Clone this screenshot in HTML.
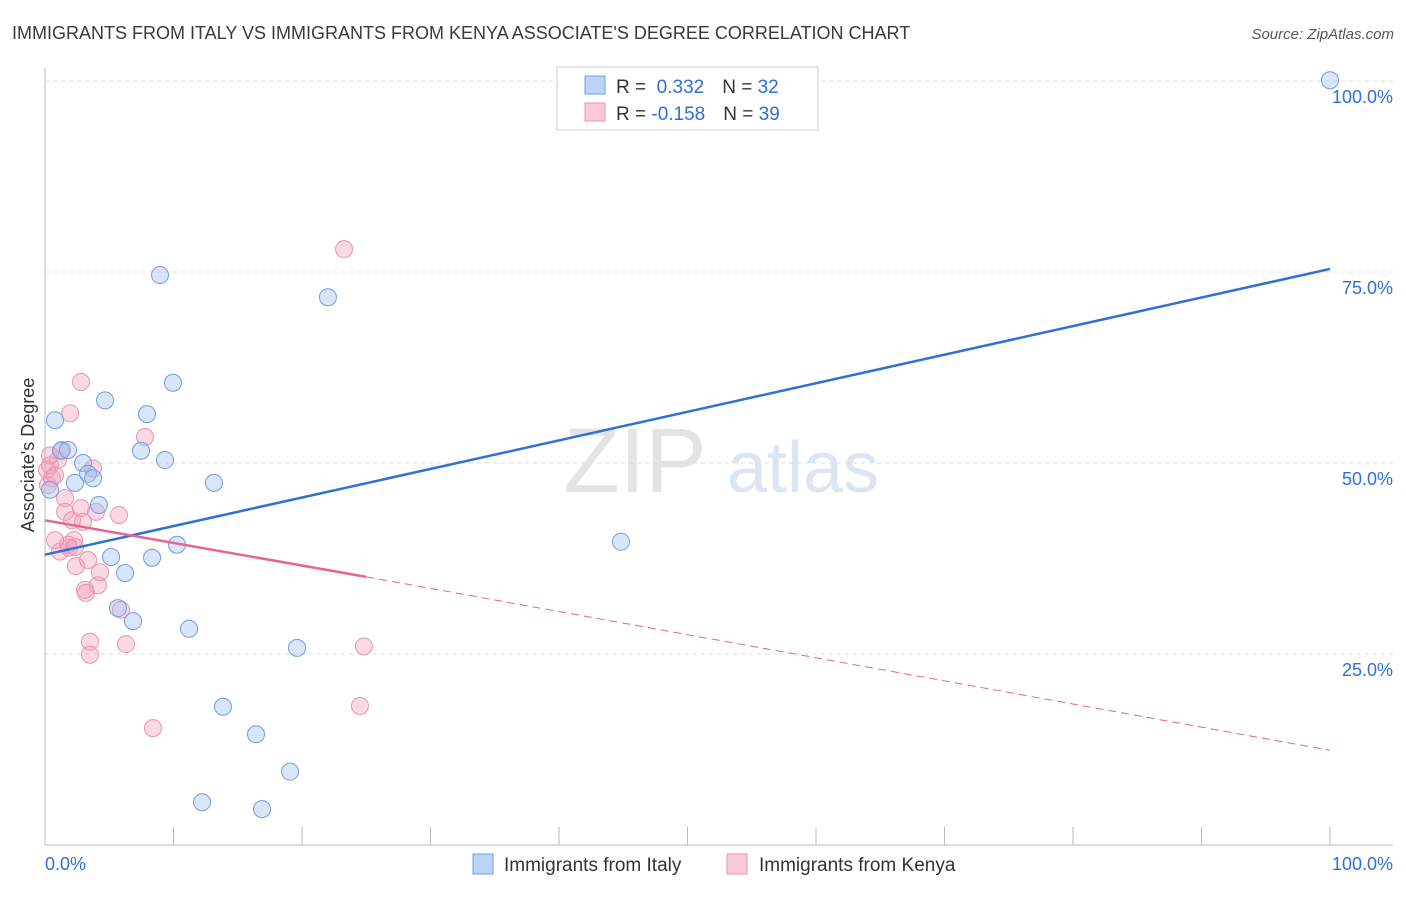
<!DOCTYPE html>
<html><head><meta charset="utf-8"><style>
body{margin:0;background:#fff;font-family:"Liberation Sans",sans-serif}
svg text{font-family:"Liberation Sans",sans-serif}
</style></head><body>
<svg id="c" width="1406" height="892" xmlns="http://www.w3.org/2000/svg">
<text x="12" y="39" font-size="18" fill="#3a3a3a">IMMIGRANTS FROM ITALY VS IMMIGRANTS FROM KENYA ASSOCIATE'S DEGREE CORRELATION CHART</text>
<text x="1394" y="39" font-size="15" fill="#555" font-style="italic" text-anchor="end">Source: ZipAtlas.com</text>
<text x="635" y="492" font-size="92" fill="#e4e4e4" font-family="Liberation Serif" text-anchor="middle">ZIP</text>
<text x="803" y="492" font-size="72" fill="#dce6f3" text-anchor="middle">atlas</text>
<g id="grid"></g><g id="pts"></g><g id="lines"></g>
<text x="34" y="455" font-size="18" fill="#333" text-anchor="middle" transform="rotate(-90 34 455)">Associate's Degree</text>
<g>
<rect x="557" y="67" width="261" height="63" fill="#fff" stroke="#ccc"/>
<rect x="585" y="76" width="20" height="18" fill="#bcd3f5" stroke="#6f9ee0"/>
<rect x="585" y="103" width="20" height="18" fill="#f9c9d8" stroke="#ea94b0"/>
<text x="616" y="93" font-size="19" fill="#333">R = <tspan fill="#2e6fd8">&#160;0.332</tspan><tspan dx="18">N = </tspan><tspan fill="#2e6fd8">32</tspan></text>
<text x="616" y="120" font-size="19" fill="#333">R = <tspan fill="#2e6fd8">-0.158</tspan><tspan dx="18">N = </tspan><tspan fill="#2e6fd8">39</tspan></text>
</g>
<g>
<rect x="473" y="854" width="20" height="20" fill="#bcd3f5" stroke="#6f9ee0"/>
<text x="504" y="871" font-size="19" fill="#333">Immigrants from Italy</text>
<rect x="727" y="854" width="20" height="20" fill="#f9c9d8" stroke="#ea94b0"/>
<text x="759" y="871" font-size="19" fill="#333">Immigrants from Kenya</text>
</g>
</svg>
<script>
const italyX=[0.78,1.25,1.79,2.33,2.96,3.35,3.74,4.20,4.67,5.14,6.23,5.68,6.85,7.47,7.94,8.33,8.95,9.34,9.96,10.27,11.21,13.15,13.85,16.42,12.22,16.89,19.07,19.61,22.02,44.82,100,0.39];
const italyY=[55.6,51.6,51.7,47.4,50.0,48.6,48.0,44.5,58.2,37.7,35.6,31.0,29.3,51.6,56.4,37.6,74.6,50.4,60.5,39.3,28.3,47.4,18.1,14.5,5.6,4.7,9.6,25.8,71.7,39.7,100.1,46.5];
const kenyaX=[0.16,0.23,0.39,0.54,0.78,1.01,1.32,1.56,1.56,1.87,1.95,2.10,2.26,2.41,2.80,2.80,2.96,3.11,3.19,3.35,3.50,3.50,3.74,3.97,4.12,4.28,5.76,5.91,6.30,7.78,8.40,23.27,24.51,24.82,1.17,1.79,0.78,2.33,0.39];
const kenyaY=[49.1,47.1,49.7,48.0,48.4,50.4,51.7,45.4,43.6,38.9,56.5,42.5,39.9,36.5,60.6,44.1,42.3,33.4,33.0,37.3,26.6,24.9,49.3,43.6,34.0,35.7,43.2,30.8,26.3,53.4,15.3,78.0,18.2,26.0,38.4,39.3,39.9,39.0,51.0];
const italyTrend=[38.0,75.4];
const kenyaTrend=[42.5,35.1,12.4];
const yTicks=[25,50,75,100];
const xTickVals=[10,20,30,40,50,60,70,80,90,100];
const NS="http://www.w3.org/2000/svg";
const X=v=>45+v*12.85, Y=v=>845-v*7.64;
function mk(t,a,p){const e=document.createElementNS(NS,t);for(const k in a)e.setAttribute(k,a[k]);p.appendChild(e);return e;}
const g=document.getElementById('grid');
yTicks.forEach(v=>{
 const l=mk('line',{x1:45,x2:1393,y1:Y(v),y2:Y(v),stroke:'#ddd','stroke-dasharray':'4 4'},g);
 
 
 const t=mk('text',{x:1393,y:Y(v)+22,'font-size':18,fill:'#2e6fd8','text-anchor':'end'},g);
 t.textContent=v.toFixed(1)+'%';
 
 
});
mk('line',{x1:45,x2:45,y1:68,y2:845,stroke:'#bbb'},g);
mk('line',{x1:45,x2:1393,y1:845,y2:845,stroke:'#bbb'},g);
xTickVals.forEach(v=>{
 const l=mk('line',{x1:X(v),x2:X(v),y1:827,y2:845,stroke:'#bbb'},g);
 
 
});
let t0=mk('text',{x:45,y:870,'font-size':18,fill:'#2e6fd8'},g);t0.textContent='0.0%';


let t1=mk('text',{x:1393,y:870,'font-size':18,fill:'#2e6fd8','text-anchor':'end'},g);t1.textContent='100.0%';


const p=document.getElementById('pts');
kenyaX.forEach((x,i)=>{
 const c=mk('circle',{cx:X(x),cy:Y(kenyaY[i]),r:8.5,fill:'rgba(244,160,188,0.4)',stroke:'#ea94b0','stroke-width':1},p);
 
 
});
italyX.forEach((x,i)=>{
 const c=mk('circle',{cx:X(x),cy:Y(italyY[i]),r:8.5,fill:'rgba(160,192,240,0.4)',stroke:'#6f9ee0','stroke-width':1},p);
 
 
});
const L=document.getElementById('lines');
let a=mk('line',{x1:X(0),y1:Y(italyTrend[0]),x2:X(100),y2:Y(italyTrend[1]),stroke:'#2e6fd8','stroke-width':2.5},L);


let b=mk('line',{x1:X(0),y1:Y(kenyaTrend[0]),x2:X(25),y2:Y(kenyaTrend[1]),stroke:'#e8648e','stroke-width':2.5},L);


let d=mk('line',{x1:X(25),y1:Y(kenyaTrend[1]),x2:X(100),y2:Y(kenyaTrend[2]),stroke:'#e8648e','stroke-width':1,'stroke-dasharray':'8 5'},L);


</script>
</body></html>
